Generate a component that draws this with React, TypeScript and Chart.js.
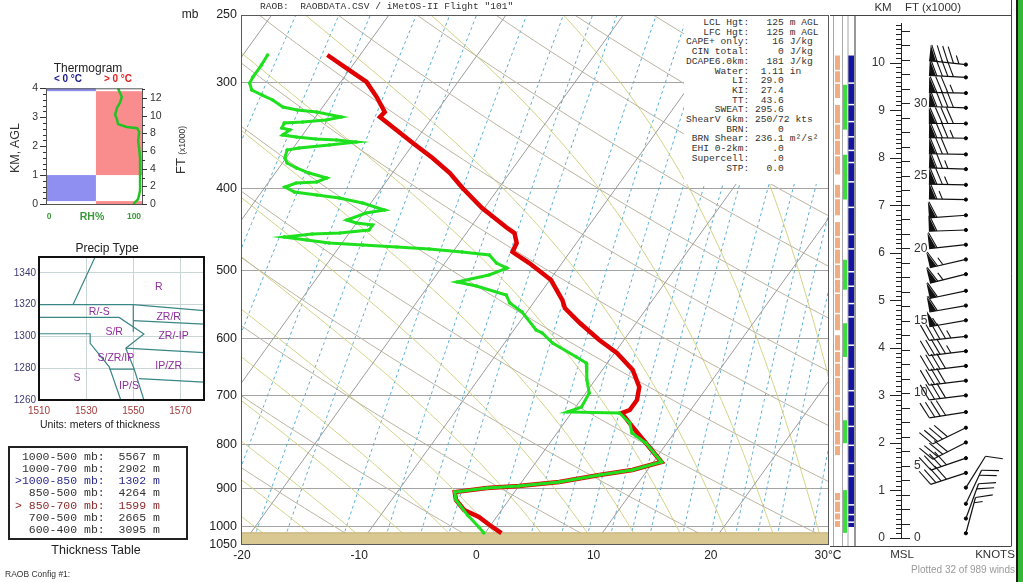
import React, { useEffect, useRef } from 'react';
import { Chart, registerables } from 'chart.js';

Chart.register(...registerables);

const SANS = '"Liberation Sans", Arial, Helvetica, sans-serif';
const MONO = '"Liberation Mono", "Courier New", monospace';
Chart.defaults.font.family = SANS;

// ---------------- Skew-T data ----------------
const PRESSURE_TICKS = [250, 300, 400, 500, 600, 700, 800, 900, 1000, 1050];
const TEMP_TICKS = [-20, -10, 0, 10, 20, 30];
const P_TOP = 250;
const P_BOTTOM = 1050;
const SURFACE_P = 1016;
const SKEW = 22.67; // degC per ln(p) unit

const TEMP_P = [278.6, 290.2, 299.7, 312.2, 325.1, 329.5, 341.3, 353.6, 368.2, 383.5, 399.4, 421.6, 443.9, 451.2, 463.5, 475, 489.3, 512.4, 540.9, 552.7, 575.6, 602.7, 624.3, 653.8, 684.6, 709, 728.5, 734.5, 762.9, 796.7, 838.7, 857.1, 868.8, 885.4, 895, 899.9, 909.8, 929.6, 955.1, 973.5, 994.7, 1016.5];
const TEMP_C = [-42.8, -40.0, -37.8, -36.0, -34.4, -34.5, -32.3, -30.1, -27.5, -25.1, -23.1, -20.2, -17.0, -15.9, -15.1, -14.9, -12.8, -9.9, -7.7, -7.0, -4.8, -2.1, 0.2, 2.6, 4.2, 4.8, 4.8, 4.3, 6.1, 8.2, 10.7, 8.7, 6.2, 3.2, 0.0, -2.6, -5.1, -4.5, -3.2, -1.5, -0.1, 1.4];

const DEW_P = [278.6, 286.3, 295.7, 300.6, 306.3, 310.5, 314.7, 320.7, 323.3, 325.1, 329.5, 332.2, 334.0, 334.9, 339.5, 341.3, 346.0, 347.9, 349.8, 350.7, 352.6, 355.5, 358.4, 360.3, 368.2, 373.2, 378.3, 383.5, 388.7, 392.9, 394.0, 398.3, 403.7, 407.0, 410.3, 416.0, 423.9, 427.4, 435.6, 439.1, 441.5, 447.5, 451.2, 452.4, 456.1, 459.8, 463.5, 466.1, 468.6, 471.1, 475.0, 478.8, 489.3, 496.0, 505.4, 515.1, 520.8, 533.6, 545.3, 558.8, 586.6, 591.4, 607.7, 631.2, 641.5, 671.7, 695.8, 722.7, 732.5, 734.5, 754.7, 775.4, 796.7, 838.7, 857.1, 868.8, 885.4, 895.0, 899.9, 909.8, 929.6, 968.3, 1000.0, 1016.5];
const DEW_C = [-47.9, -47.8, -47.8, -47.7, -47.1, -45.9, -44.7, -43.4, -42.0, -40.2, -37.8, -38.9, -40.8, -42.3, -42.2, -41.4, -41.7, -40.4, -38.6, -36.8, -35.0, -37.1, -39.5, -40.4, -40.1, -39.6, -38.5, -37.1, -35.3, -35.9, -37.6, -38.3, -37.2, -35.1, -33.0, -30.7, -28.4, -29.8, -31.0, -30.0, -28.5, -28.5, -30.8, -33.1, -35.3, -33.2, -31.1, -28.1, -25.1, -22.2, -19.2, -16.7, -15.6, -14.4, -15.5, -17.8, -15.9, -12.8, -12.0, -10.4, -8.1, -7.4, -5.9, -3.0, -1.8, -0.7, 0.3, 0.5, -0.4, 4.1, 5.6, 6.4, 8.2, 10.7, 8.7, 6.2, 3.2, 0.0, -2.6, -5.1, -4.5, -2.6, -0.9, -0.1];

// reference lines of the diagram
const ISOTHERMS = [-110, -100, -90, -80, -70, -60, -50, -40, -30, -20, -10, 0, 10, 20, 30, 40];
const DRY_THETA = [240, 250, 260, 270, 280, 290, 300, 310, 320, 330, 340, 350, 360, 370, 380, 390, 400, 410, 420, 430, 440];
const MOIST_T1000 = [-28, -24, -20, -16, -12, -8, -4, 0, 4, 8, 12, 16, 20, 24, 28, 32, 36, 40];
const MIX_RATIOS = [0.1, 0.2, 0.3, 0.4, 0.6, 0.8, 1, 1.5, 2, 2.5, 3, 4, 5, 6, 7, 8, 9, 10, 12, 14, 16, 18, 20, 24, 28, 32, 36];

// side strips (pressure ranges)
const ORANGE_SEGS = [[279, 313], [319, 385], [396, 430], [438, 587], [595, 823], [912, 1000]];
const GREEN_SEGS = [[302, 341], [365, 412], [485, 526], [576, 631], [749, 797], [905, 1016]];
const BLUE_SEGS = [[279, 1000]];
const BLUE_GAPS = [300, 318, 333, 347, 360, 372, 392, 420, 452, 470, 500, 520, 545, 565, 610, 650, 690, 720, 760, 800, 840, 870, 940, 965, 985];
const ORANGE_GAPS = [290, 300, 335, 350, 365, 410, 455, 470, 490, 510, 530, 560, 620, 640, 665, 700, 730, 770, 800, 930, 960, 980];

// ---------------- Indices ----------------
const INDEX_NAMES = ['LCL Hgt', 'LFC Hgt', 'CAPE+ only', 'CIN total', 'DCAPE6.0km', 'Water', 'LI', 'KI', 'TT', 'SWEAT', 'ShearV 6km', 'BRN', 'BRN Shear', 'EHI 0-2km', 'Supercell', 'STP'];
const INDEX_VALUES = ['125', '125', '16', '0', '181', '1.11', '29.0', '27.4', '43.6', '295.6', '250/72', '0', '236.1', '.0', '.0', '0.0'];
const INDEX_UNITS = ['m AGL', 'm AGL', 'J/kg', 'J/kg', 'J/kg', 'in', '', '', '', '', 'kts', '', 'm²/s²', '', '', ''];

// ---------------- Winds ----------------
const WIND_KM = [0.10, 0.41, 0.72, 1.06, 1.37, 1.68, 2.01, 2.32, 2.65, 3.00, 3.31, 3.62, 3.93, 4.24, 4.58, 4.89, 5.20, 5.55, 5.86, 6.17, 6.48, 6.79, 7.12, 7.43, 7.76, 8.07, 8.41, 8.72, 9.05, 9.36, 9.69, 9.96];
const WIND_DIR = [15, 20, 25, 32, 252, 251, 243, 244, 261, 263, 263, 263, 263, 264, 260, 260, 258, 256, 257, 264, 268, 266, 271, 271, 272, 271, 271, 270, 272, 271, 273, 276];
const WIND_KT = [15, 20, 20, 10, 40, 40, 40, 40, 40, 40, 40, 40, 45, 45, 55, 60, 60, 65, 65, 60, 60, 60, 65, 75, 75, 80, 85, 90, 90, 85, 90, 95];
const KM_TICKS = [0, 1, 2, 3, 4, 5, 6, 7, 8, 9, 10];
const FT_LABELS = [0, 5, 10, 15, 20, 25, 30];
const STATION_X = 0.59;

// ---------------- Thermogram ----------------
const THERMO_KM = [0.0, 0.17, 0.47, 0.97, 1.58, 1.92, 2.18, 2.49, 2.62, 2.66, 2.76, 2.92, 3.09, 3.33, 3.5, 3.7, 4.0];
const THERMO_RH = [91, 96, 98, 98, 98, 97, 96, 97, 95, 84, 75, 74, 72, 74, 77, 79, 75];
const LAYER_BOT = [0.1, 0.0, 1.0, 3.9];
const LAYER_TOP = [1.0, 0.1, 3.9, 4.0];
const LAYER_COLD = [true, false, false, true];
const THERMO_KM_TICKS = [0, 1, 2, 3, 4];
const THERMO_FT_LABELS = [0, 2, 4, 6, 8, 10, 12];
const RH_SPLIT = 52;

// ---------------- Precip type ----------------
const PT_X_TICKS = [1510, 1530, 1550, 1570];
const PT_Y_TICKS = [1260, 1280, 1300, 1320, 1340];
const PT_LINES = [
  [[1524.4, 1320], [1533.8, 1350]],
  [[1510, 1320], [1550, 1320], [1580, 1316.2]],
  [[1510, 1312], [1544, 1312], [1554.5, 1301.5], [1546.8, 1292.6]],
  [[1550, 1320], [1550, 1303]],
  [[1550, 1310], [1580, 1307.8]],
  [[1510, 1301.7], [1531.7, 1301.7], [1531.7, 1295.7], [1539.8, 1280.9], [1544.7, 1260]],
  [[1546.8, 1292.6], [1580, 1289.8]],
  [[1546.8, 1292.6], [1550.3, 1279.8], [1554.5, 1260]],
  [[1539.8, 1279.4], [1550.3, 1279.4]],
  [[1552.4, 1273.4], [1580, 1271.2]],
];
const PT_LABEL_TEXT = ['R', 'R/-S', 'ZR/R', 'S/R', 'ZR/-IP', 'S/ZR/IP', 'IP/ZR', 'S', 'IP/S'];
const PT_LABEL_X = [1560.8, 1535.6, 1565, 1541.9, 1567.1, 1542.6, 1565, 1526.1, 1548.2];
const PT_LABEL_Y = [1330.9, 1315.5, 1312, 1302.8, 1300, 1286.6, 1281.5, 1273.8, 1268.7];

// ---------------- Thickness ----------------
const THICK_LAYERS = ['1000-500', '1000-700', '1000-850', '850-500', '850-700', '700-500', '600-400'];
const THICK_M = [5567, 2902, 1302, 4264, 1599, 2665, 3095];
const THICK_MARK = [' ', ' ', '>', ' ', '>', ' ', ' '];
const THICK_COLOR = ['#333', '#333', '#2b2b8c', '#333', '#8c2b2b', '#333', '#333'];

// ---------------- helpers ----------------
const skewX = (t: number, p: number) => t + SKEW * Math.log(P_BOTTOM / p);

function strokePath(ctx: CanvasRenderingContext2D, pts: number[][], color: string, width: number, dash: number[] = []) {
  if (!pts.length) return;
  ctx.beginPath();
  ctx.moveTo(pts[0][0], pts[0][1]);
  for (let i = 1; i < pts.length; i++) ctx.lineTo(pts[i][0], pts[i][1]);
  ctx.strokeStyle = color;
  ctx.lineWidth = width;
  ctx.setLineDash(dash);
  ctx.stroke();
  ctx.setLineDash([]);
}

function dewFromMix(w: number, p: number) {
  const e = (w * p) / (622 + w);
  const l = Math.log(e / 6.112);
  return (243.5 * l) / (17.67 - l);
}

function moistLapse(tC: number, p: number) {
  const Tk = tC + 273.15;
  const es = 6.112 * Math.exp((17.67 * tC) / (tC + 243.5));
  const rs = (0.622 * es) / (p - es);
  return (287 * Tk + 2.5e6 * rs) / (p * (1005 + (2.5e6 * 2.5e6 * rs * 0.622) / (287 * Tk * Tk)));
}

function moistCurve(t1000: number) {
  const up: number[][] = [];
  let T = t1000;
  for (let p = 1000; p >= 240; p -= 5) {
    up.push([T, p]);
    T -= moistLapse(T, p) * 5;
  }
  const down: number[][] = [];
  T = t1000;
  for (let p = 1000; p <= 1060; p += 5) {
    down.push([T, p]);
    T += moistLapse(T, p) * 5;
  }
  return [...down.reverse(), ...up];
}

// ---------------- plugins ----------------
const skewPlugin = {
  id: 'skewBackground',
  beforeDatasetsDraw(chart: any) {
    const { ctx, chartArea: a, scales } = chart;
    const xs = scales.x;
    const ys = scales.y;
    const px = (t: number, p: number) => xs.getPixelForValue(skewX(t, p));
    const py = (p: number) => ys.getPixelForValue(p);
    ctx.save();
    ctx.beginPath();
    ctx.rect(a.left, a.top, a.right - a.left, a.bottom - a.top);
    ctx.clip();
    const levels: number[] = [];
    for (let p = P_BOTTOM + 10; p >= P_TOP - 20; p -= 10) levels.push(p);
    MIX_RATIOS.forEach((w) => strokePath(ctx, levels.map((p) => [px(dewFromMix(w, p), p), py(p)]), '#5aaed2', 1, [3, 3]));
    MOIST_T1000.forEach((t) => strokePath(ctx, moistCurve(t).map(([T, p]) => [px(T, p), py(p)]), '#d2d284', 1));
    DRY_THETA.forEach((th) => strokePath(ctx, levels.map((p) => [px(th * Math.pow(p / 1000, 0.2857) - 273.15, p), py(p)]), '#bcb4a2', 1));
    ISOTHERMS.forEach((t) => strokePath(ctx, [[px(t, P_BOTTOM), py(P_BOTTOM)], [px(t, P_TOP), py(P_TOP)]], '#9c9c9c', 1));
    const gy = py(SURFACE_P);
    ctx.fillStyle = '#dac892';
    ctx.fillRect(a.left, gy, a.right - a.left, a.bottom - gy);
    strokePath(ctx, [[a.left, gy], [a.right, gy]], '#c2ad74', 1);
    ctx.restore();
  },
  afterDatasetsDraw(chart: any) {
    const { ctx, chartArea: a } = chart;
    ctx.save();
    ctx.strokeStyle = '#5a5a5a';
    ctx.lineWidth = 1;
    ctx.strokeRect(Math.round(a.left) - 0.5, Math.round(a.top) + 0.5, Math.round(a.right - a.left) + 1, Math.round(a.bottom - a.top) - 1);
    ctx.restore();
  },
  afterDraw(chart: any) {
    const { ctx, chartArea: a, scales } = chart;
    const py = (p: number) => scales.y.getPixelForValue(p);
    ctx.save();
    const x0 = 653; // canvas offset: page x 833
    const segs = (list: number[][], left: number, w: number, color: string) => {
      ctx.fillStyle = color;
      list.forEach(([p1, p2]) => ctx.fillRect(left, py(p1), w, py(p2) - py(p1)));
    };
    segs(ORANGE_SEGS, x0 + 2, 5, '#f0ad82');
    ctx.fillStyle = '#ffffff';
    ORANGE_GAPS.forEach((p) => ctx.fillRect(x0 + 2, py(p), 5, 1.5));
    segs(GREEN_SEGS, x0 + 10, 4, '#3fdc3f');
    segs(BLUE_SEGS, x0 + 15, 6, '#1414a0');
    ctx.fillStyle = '#ffffff';
    BLUE_GAPS.forEach((p) => ctx.fillRect(x0 + 15, py(p), 6, 1.5));
    [x0, x0 + 9, x0 + 14.5].forEach((xx) => strokePath(ctx, [[xx + 0.5, a.top], [xx + 0.5, 546]], '#a8a8a8', 1));
    strokePath(ctx, [[x0 + 22, a.top], [x0 + 22, 546]], '#333', 1);
    ctx.restore();
  },
};

function drawBarb(ctx: CanvasRenderingContext2D, x0: number, y0: number, dir: number, kt: number) {
  const rad = (dir * Math.PI) / 180;
  const sx = Math.sin(rad);
  const sy = -Math.cos(rad);
  const qx = -sy;
  const qy = sx;
  const L = 37;
  const B = 16;
  const ex = x0 + sx * L;
  const ey = y0 + sy * L;
  ctx.fillStyle = '#111';
  strokePath(ctx, [[x0, y0], [ex, ey]], '#111', 1.2);
  let rem = Math.round(kt / 5) * 5;
  let pos = 0;
  while (rem >= 50) {
    const ax = ex - sx * pos;
    const ay = ey - sy * pos;
    ctx.beginPath();
    ctx.moveTo(ax, ay);
    ctx.lineTo(ax + qx * B, ay + qy * B);
    ctx.lineTo(ex - sx * (pos + 7), ey - sy * (pos + 7));
    ctx.closePath();
    ctx.fill();
    pos += 8;
    rem -= 50;
  }
  while (rem >= 10) {
    const ax = ex - sx * pos;
    const ay = ey - sy * pos;
    strokePath(ctx, [[ax, ay], [ax + qx * B + sx * 7, ay + qy * B + sy * 7]], '#111', 1.1);
    pos += 5.5;
    rem -= 10;
  }
  if (rem >= 5) {
    if (pos === 0) pos = 5.5;
    const ax = ex - sx * pos;
    const ay = ey - sy * pos;
    strokePath(ctx, [[ax, ay], [ax + qx * B * 0.5 + sx * 3.5, ay + qy * B * 0.5 + sy * 3.5]], '#111', 1.1);
  }
}

const windPlugin = {
  id: 'windPanel',
  afterDatasetsDraw(chart: any) {
    const { ctx, chartArea: a, scales } = chart;
    const y = scales.y;
    ctx.save();
    strokePath(ctx, [[4, 15.5], [a.right, 15.5]], '#444', 1);
    strokePath(ctx, [[4, 546.5], [a.right, 546.5]], '#444', 1);
    strokePath(ctx, [[a.right + 0.5, 0], [a.right + 0.5, 546.5]], '#444', 1);
    ctx.fillStyle = '#1b1b1b';
    ctx.fillRect(190, 0, 2, 582);
    ctx.fillStyle = '#36b836';
    ctx.fillRect(192, 0, 5, 582);
    for (let k = 0; k <= 108; k++) {
      const yy = Math.round(y.getPixelForValue(k / 10)) + 0.5;
      const len = k % 10 === 0 ? 11 : 5;
      strokePath(ctx, [[a.left - len, yy], [a.left, yy]], '#222', 1);
    }
    ctx.font = `12px ${SANS}`;
    ctx.fillStyle = '#333';
    ctx.textAlign = 'left';
    ctx.textBaseline = 'middle';
    for (let f = 0; f <= 35; f++) {
      const yy = Math.round(y.getPixelForValue(f * 0.3048)) + 0.5;
      strokePath(ctx, [[a.left, yy], [a.left + 9, yy]], '#222', 1);
    }
    FT_LABELS.forEach((f) => ctx.fillText(String(f), a.left + 13, y.getPixelForValue(f * 0.3048)));
    const meta = chart.getDatasetMeta(0);
    meta.data.forEach((pt: any, i: number) => drawBarb(ctx, pt.x, pt.y, WIND_DIR[i], WIND_KT[i]));
    ctx.restore();
  },
};

const thermoPlugin = {
  id: 'thermo',
  beforeDatasetsDraw(chart: any) {
    const { ctx, scales } = chart;
    const { x, y } = scales;
    ctx.save();
    LAYER_BOT.forEach((b, i) => {
      const cold = LAYER_COLD[i];
      const x1 = x.getPixelForValue(cold ? 0 : RH_SPLIT);
      const x2 = x.getPixelForValue(cold ? RH_SPLIT : 100);
      const y1 = y.getPixelForValue(LAYER_TOP[i]);
      const y2 = y.getPixelForValue(b);
      ctx.fillStyle = cold ? '#8f8ff2' : '#f98d8d';
      ctx.fillRect(x1, y1, x2 - x1, y2 - y1);
    });
    ctx.restore();
  },
  afterDatasetsDraw(chart: any) {
    const { ctx, chartArea: a, scales } = chart;
    const y = scales.y;
    ctx.save();
    ctx.strokeStyle = '#555';
    ctx.lineWidth = 1;
    ctx.strokeRect(a.left + 0.5, a.top + 0.5, a.right - a.left, a.bottom - a.top);
    for (let k = 0; k <= 20; k++) {
      const yy = Math.round(y.getPixelForValue(k / 5)) + 0.5;
      const len = k % 5 === 0 ? 6 : 3;
      strokePath(ctx, [[a.left - len, yy], [a.left, yy]], '#333', 1);
    }
    ctx.font = `10.5px ${SANS}`;
    ctx.fillStyle = '#333';
    ctx.textAlign = 'left';
    ctx.textBaseline = 'middle';
    for (let f = 0; f <= 13; f++) {
      const yy = Math.round(y.getPixelForValue(f * 0.3048)) + 0.5;
      strokePath(ctx, [[a.right, yy], [a.right + (f % 2 === 0 ? 5 : 3), yy]], '#333', 1);
    }
    THERMO_FT_LABELS.forEach((f) => ctx.fillText(String(f), a.right + 8, y.getPixelForValue(f * 0.3048)));
    ctx.restore();
  },
};

const precipPlugin = {
  id: 'precip',
  afterDatasetsDraw(chart: any) {
    const { ctx, chartArea: a, scales } = chart;
    ctx.save();
    ctx.font = `10.5px ${SANS}`;
    ctx.fillStyle = '#8e2c9c';
    ctx.textAlign = 'center';
    ctx.textBaseline = 'middle';
    PT_LABEL_TEXT.forEach((t, i) => ctx.fillText(t, scales.x.getPixelForValue(PT_LABEL_X[i]), scales.y.getPixelForValue(PT_LABEL_Y[i])));
    ctx.strokeStyle = '#111';
    ctx.lineWidth = 2;
    ctx.strokeRect(a.left, a.top, a.right - a.left, a.bottom - a.top);
    ctx.restore();
  },
};

const base = {
  animation: false,
  responsive: false,
  devicePixelRatio: 1,
  events: [],
  plugins: { legend: { display: false }, tooltip: { enabled: false } },
};

function Label(props: any) {
  const { cx, cy, size = 12, color = '#222', bold = false, rotate = 0, children, family = SANS } = props;
  return (
    <div
      style={{
        position: 'absolute',
        left: cx,
        top: cy,
        transform: `translate(-50%, -50%) rotate(${rotate}deg)`,
        fontSize: size,
        color,
        fontWeight: bold ? 'bold' : 'normal',
        fontFamily: family,
        whiteSpace: 'nowrap',
        lineHeight: 1,
      }}
    >
      {children}
    </div>
  );
}

export default function App() {
  const mainRef = useRef<HTMLCanvasElement>(null);
  const windRef = useRef<HTMLCanvasElement>(null);
  const thermoRef = useRef<HTMLCanvasElement>(null);
  const precipRef = useRef<HTMLCanvasElement>(null);

  useEffect(() => {
    const charts: any[] = [];
    charts.push(
      new Chart(mainRef.current as HTMLCanvasElement, {
        type: 'scatter',
        data: {
          datasets: [
            {
              label: 'Dewpoint',
              data: DEW_P.map((p, i) => ({ x: skewX(DEW_C[i], p), y: p })),
              showLine: true,
              borderColor: '#1fe01f',
              backgroundColor: '#1fe01f',
              borderWidth: 3,
              pointRadius: 1.8,
              pointBorderWidth: 0,
            },
            {
              label: 'Temperature',
              data: TEMP_P.map((p, i) => ({ x: skewX(TEMP_C[i], p), y: p })),
              showLine: true,
              borderColor: '#e10000',
              backgroundColor: '#e10000',
              borderWidth: 4.5,
              pointRadius: 0,
            },
          ],
        },
        options: {
          ...base,
          layout: { padding: { top: 15, right: 42, left: 0, bottom: 0 } },
          scales: {
            x: {
              type: 'linear',
              min: -20,
              max: 30,
              afterBuildTicks: (s: any) => {
                s.ticks = TEMP_TICKS.map((v) => ({ value: v }));
              },
              ticks: {
                callback: (v: any) => (v === 30 ? '30°C' : String(v)),
                font: { family: SANS, size: 12 },
                color: '#222',
                padding: 3,
                maxRotation: 0,
                autoSkip: false,
              },
              grid: { display: false, drawTicks: false },
              border: { display: false },
              afterFit: (s: any) => {
                s.height = 30;
              },
            },
            y: {
              type: 'logarithmic',
              reverse: true,
              min: P_TOP,
              max: P_BOTTOM,
              afterBuildTicks: (s: any) => {
                s.ticks = PRESSURE_TICKS.map((v) => ({ value: v }));
              },
              ticks: {
                callback: (v: any) => String(v),
                font: { family: SANS, size: 12.5 },
                color: '#222',
                padding: 5,
                autoSkip: false,
              },
              grid: {
                drawTicks: false,
                color: (c: any) => (c.tick && (c.tick.value === P_TOP || c.tick.value === P_BOTTOM) ? 'rgba(0,0,0,0)' : '#a4a4a4'),
                lineWidth: 1,
              },
              border: { display: false },
              afterFit: (s: any) => {
                s.width = 62;
              },
            },
          },
        } as any,
        plugins: [skewPlugin],
      } as any)
    );

    charts.push(
      new Chart(windRef.current as HTMLCanvasElement, {
        type: 'scatter',
        data: {
          datasets: [
            {
              data: WIND_KM.map((h) => ({ x: STATION_X, y: h })),
              pointRadius: 1.6,
              backgroundColor: '#000',
              borderColor: '#000',
            },
          ],
        },
        options: {
          ...base,
          layout: { padding: { top: 15, bottom: 44, right: 12, left: 0 } },
          scales: {
            x: { type: 'linear', min: 0, max: 1, display: false },
            y: {
              type: 'linear',
              min: 0,
              max: 10.83,
              afterBuildTicks: (s: any) => {
                s.ticks = KM_TICKS.map((v) => ({ value: v }));
              },
              ticks: { font: { family: SANS, size: 12 }, color: '#333', padding: 16, autoSkip: false },
              grid: { display: false, drawTicks: false },
              border: { display: true, color: '#222', width: 1 },
              afterFit: (s: any) => {
                s.width = 75;
              },
            },
          },
        } as any,
        plugins: [windPlugin],
      } as any)
    );

    charts.push(
      new Chart(thermoRef.current as HTMLCanvasElement, {
        type: 'scatter',
        data: {
          datasets: [
            {
              data: THERMO_RH.map((r, i) => ({ x: r, y: THERMO_KM[i] })),
              showLine: true,
              borderColor: '#22c222',
              borderWidth: 2.5,
              pointRadius: 0,
            },
          ],
        },
        options: {
          ...base,
          layout: { padding: { top: 14, bottom: 23, right: 58, left: 0 } },
          scales: {
            x: { type: 'linear', min: 0, max: 100, display: false },
            y: {
              type: 'linear',
              min: 0,
              max: 4,
              afterBuildTicks: (s: any) => {
                s.ticks = THERMO_KM_TICKS.map((v) => ({ value: v }));
              },
              ticks: { font: { family: SANS, size: 10.5 }, color: '#333', padding: 8, autoSkip: false },
              grid: { display: false, drawTicks: false },
              border: { display: false },
              afterFit: (s: any) => {
                s.width = 46;
              },
            },
          },
        } as any,
        plugins: [thermoPlugin],
      } as any)
    );

    charts.push(
      new Chart(precipRef.current as HTMLCanvasElement, {
        type: 'scatter',
        data: {
          datasets: [
            ...PT_LINES.map((l) => ({
              data: l.map(([x, y]) => ({ x, y })),
              showLine: true,
              borderColor: '#3b8686',
              borderWidth: 1.2,
              pointRadius: 0,
            })),
            {
              data: [{ x: Math.min(THICK_M[4], 1583), y: THICK_M[2] }],
              pointRadius: 5.5,
              borderColor: '#e03a3a',
              pointBorderWidth: 1.2,
              backgroundColor: 'rgba(0,0,0,0)',
              clip: false,
            },
          ],
        },
        options: {
          ...base,
          layout: { padding: { top: 17, right: 11, left: 0, bottom: 0 } },
          scales: {
            x: {
              type: 'linear',
              min: 1510,
              max: 1580,
              afterBuildTicks: (s: any) => {
                s.ticks = PT_X_TICKS.map((v) => ({ value: v }));
              },
              ticks: { callback: (v: any) => String(v), font: { family: SANS, size: 10 }, color: '#a33a3a', padding: 5, autoSkip: false, maxRotation: 0 },
              grid: { color: '#c9d6d6', drawTicks: false },
              border: { display: false },
              afterFit: (s: any) => {
                s.height = 35;
              },
            },
            y: {
              type: 'linear',
              min: 1260,
              max: 1350,
              afterBuildTicks: (s: any) => {
                s.ticks = PT_Y_TICKS.map((v) => ({ value: v }));
              },
              ticks: { callback: (v: any) => String(v), font: { family: SANS, size: 10 }, color: '#3b3b70', padding: 3, autoSkip: false },
              grid: { color: '#c9d6d6', drawTicks: false },
              border: { display: false },
              afterFit: (s: any) => {
                s.width = 39;
              },
            },
          },
        } as any,
        plugins: [precipPlugin],
      } as any)
    );

    return () => charts.forEach((c) => c.destroy());
  }, []);

  const indexText = INDEX_NAMES.map((n, i) => {
    const v = INDEX_VALUES[i];
    const val = v.length >= 6 ? ' ' + v : v.padStart(6);
    return (n + ':').padStart(11) + val + (INDEX_UNITS[i] ? ' ' + INDEX_UNITS[i] : '');
  }).join('\n');

  const title = 'RAOB:  RAOBDATA.CSV / iMetOS-II Flight "101"';

  return (
    <div style={{ position: 'absolute', left: 0, top: 0, width: 1023, height: 582, background: '#fff', overflow: 'hidden', fontFamily: SANS }}>
      <canvas ref={mainRef} width={690} height={575} style={{ position: 'absolute', left: 180, top: 0, width: 690, height: 575 }} />
      <canvas ref={windRef} width={197} height={582} style={{ position: 'absolute', left: 826, top: 0, width: 197, height: 582 }} />
      <canvas ref={thermoRef} width={200} height={153} style={{ position: 'absolute', left: 0, top: 74, width: 200, height: 153 }} />
      <canvas ref={precipRef} width={215} height={195} style={{ position: 'absolute', left: 0, top: 240, width: 215, height: 195 }} />

      {/* skew-T texts */}
      <pre style={{ position: 'absolute', left: 260, top: 2, margin: 0, fontFamily: MONO, fontSize: 9.6, lineHeight: '10px', color: '#333' }}>{title}</pre>
      <Label cx={190} cy={14} size={12}>mb</Label>
      <div style={{ position: 'absolute', left: 684, top: 16, width: 144, height: 168, background: '#fff' }}>
        <pre style={{ position: 'absolute', left: 2, top: 2, margin: 0, fontFamily: MONO, fontSize: 9.6, lineHeight: '9.7px', color: '#333' }}>{indexText}</pre>
      </div>

      {/* wind panel texts */}
      <Label cx={883} cy={8} size={11.5} color="#333">KM</Label>
      <Label cx={933} cy={8} size={11.5} color="#333">FT (x1000)</Label>
      <Label cx={902} cy={555} size={11.5} color="#333">MSL</Label>
      <Label cx={995} cy={555} size={11.5} color="#333">KNOTS</Label>
      <Label cx={963} cy={570} size={10} color="#9a9a9a">Plotted 32 of 989 winds</Label>

      {/* thermogram texts */}
      <Label cx={88} cy={68} size={12} color="#222">Thermogram</Label>
      <Label cx={68} cy={79} size={10} bold color="#1a1a8a">&lt; 0 °C</Label>
      <Label cx={118} cy={79} size={10} bold color="#e02020">&gt; 0 °C</Label>
      <Label cx={15} cy={148} size={12.5} rotate={-90} color="#333">KM, AGL</Label>
      <Label cx={180} cy={150} size={13} rotate={-90} color="#333">
        FT <span style={{ fontSize: 8.5 }}>(x1000)</span>
      </Label>
      <Label cx={49} cy={216} size={8.5} bold color="#3a9a3a">0</Label>
      <Label cx={92} cy={216} size={10.5} bold color="#3a9a3a">RH%</Label>
      <Label cx={134} cy={216} size={8.5} bold color="#3a9a3a">100</Label>

      {/* precip texts */}
      <Label cx={107} cy={248} size={12} color="#222">Precip Type</Label>
      <Label cx={100} cy={424} size={10.5} color="#222">Units: meters of thickness</Label>

      {/* thickness table */}
      <div style={{ position: 'absolute', left: 8, top: 446, width: 176, height: 90, border: '2px solid #222' }}>
        <div style={{ position: 'absolute', left: 5, top: 2.5, margin: 0, fontFamily: MONO, fontSize: 11.5, lineHeight: '12.3px', whiteSpace: 'pre' }}>
          {THICK_LAYERS.map((l, i) => (
            <div key={l} style={{ color: THICK_COLOR[i], height: '12.3px' }}>
              {THICK_MARK[i] + l.padStart(8) + ' mb:  ' + String(THICK_M[i]) + ' m'}
            </div>
          ))}
        </div>
      </div>
      <Label cx={96} cy={550} size={12.5} color="#222">Thickness Table</Label>
      <div style={{ position: 'absolute', left: 5, top: 569, fontSize: 8.5, color: '#333', whiteSpace: 'nowrap' }}>RAOB Config #1:</div>
    </div>
  );
}
